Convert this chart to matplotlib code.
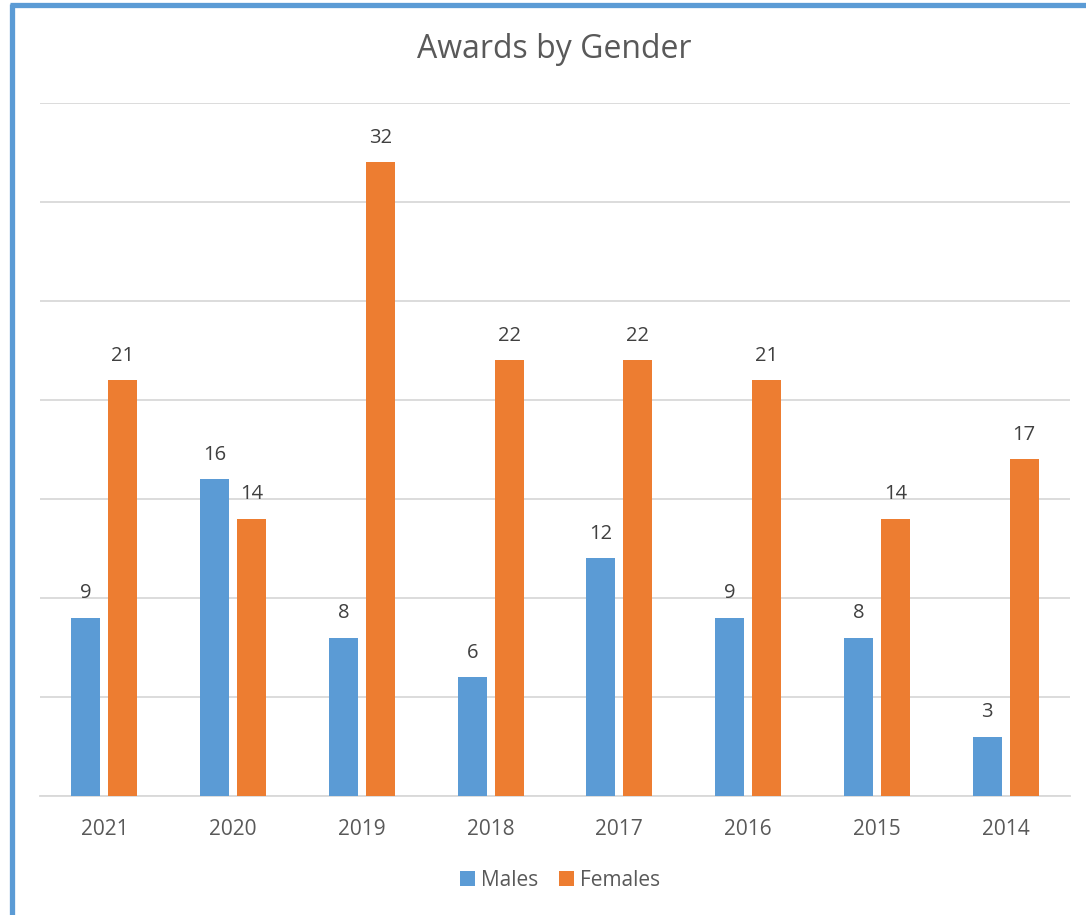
import matplotlib.pyplot as plt
import numpy as np
from matplotlib.lines import Line2D

years = ['2021', '2020', '2019', '2018', '2017', '2016', '2015', '2014']
males = [9, 16, 8, 6, 12, 9, 8, 3]
females = [21, 14, 32, 22, 22, 21, 14, 17]

BLUE = '#5B9BD5'
ORANGE = '#ED7D31'
TEXT = '#595959'

plt.rcParams['font.family'] = ['Open Sans', 'DejaVu Sans']

fig = plt.figure(figsize=(10.86, 9.15), dpi=100)
ax = fig.add_axes([40 / 1086, 119 / 915, 1030 / 1086, 693 / 915])

x = np.arange(len(years))
w = 0.225
off = 0.143
b1 = ax.bar(x - off, males, w, color=BLUE, label='Males', zorder=3)
b2 = ax.bar(x + off, females, w, color=ORANGE, label='Females', zorder=3)

for bars in (b1, b2):
    for bar in bars:
        h = bar.get_height()
        ax.annotate(f'{h:g}', (bar.get_x() + bar.get_width() / 2, h),
                    xytext=(0, 17.5), textcoords='offset points',
                    ha='center', va='center', fontsize=14.5, color='#404040')

ax.set_xlim(-0.5, len(years) - 0.5)
ax.set_ylim(0, 35)
ax.set_yticks(np.arange(0, 36, 5))
ax.yaxis.grid(True, color='#D9D9D9', linewidth=1.3, zorder=0)
ax.tick_params(axis='y', left=False, labelleft=False)
ax.tick_params(axis='x', bottom=False, labelsize=15, labelcolor=TEXT, pad=13)
ax.set_xticks(x)
ax.set_xticklabels(years)
for s in ['top', 'right', 'left']:
    ax.spines[s].set_visible(False)
ax.spines['bottom'].set_color('#D9D9D9')
ax.spines['bottom'].set_linewidth(1.3)

fig.text(0.51, 1 - 49 / 915, 'Awards by Gender', ha='center', va='center',
         fontsize=23, color=TEXT)

fig.legend(handles=[b1, b2], loc='center', bbox_to_anchor=(0.516, 1 - 880 / 915),
           ncol=2, frameon=False, fontsize=15, labelcolor=TEXT,
           handlelength=0.7, handleheight=0.7, handletextpad=0.3, columnspacing=1.0)

# blue border at top and left edge
fig.add_artist(Line2D([12 / 1086, 12 / 1086], [0, 1 - 4 / 915], color=BLUE,
                      linewidth=3.8, transform=fig.transFigure, solid_capstyle='butt'))
fig.add_artist(Line2D([10 / 1086, 1], [1 - 4.5 / 915, 1 - 4.5 / 915], color=BLUE,
                      linewidth=3.8, transform=fig.transFigure, solid_capstyle='butt'))

fig.savefig('out.png', dpi=100)
